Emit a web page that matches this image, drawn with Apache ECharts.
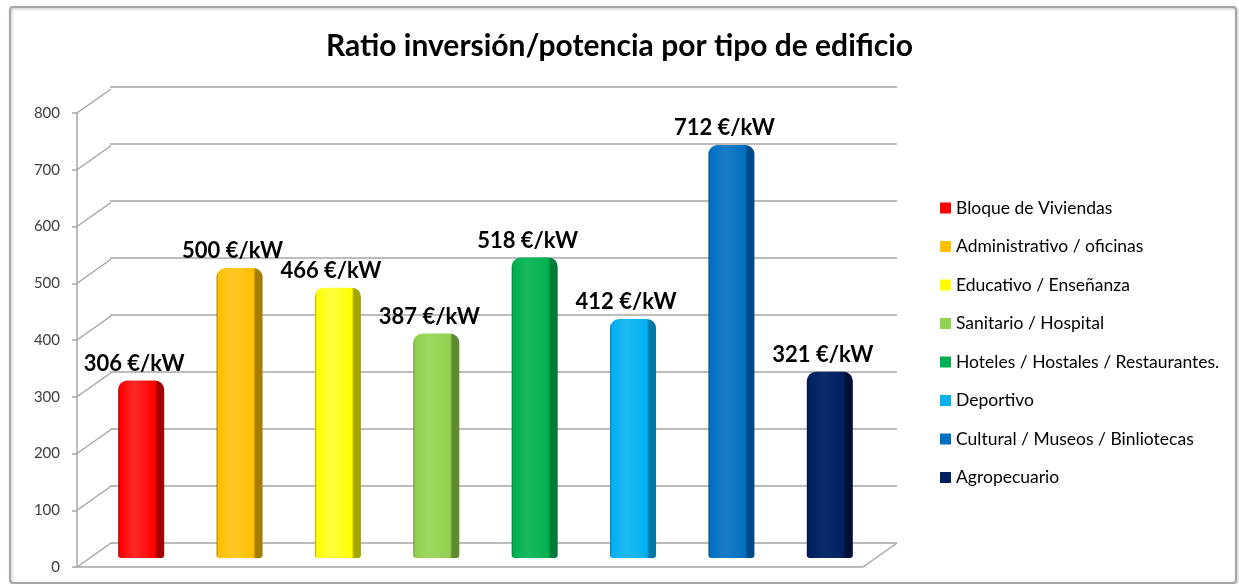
<!DOCTYPE html>
<html>
<head>
<meta charset="utf-8">
<script src="https://cdn.jsdelivr.net/npm/echarts@6/dist/echarts.min.js"></script>
<style>
html,body{margin:0;padding:0;background:#fff;}
#chart{width:1239px;height:584px;}
</style>
</head>
<body>
<div id="chart"></div>
<script>
// ---- data ----
const categories = [
  'Bloque de Viviendas',
  'Administrativo / oficinas',
  'Educativo / Enseñanza',
  'Sanitario / Hospital',
  'Hoteles / Hostales / Restaurantes.',
  'Deportivo',
  'Cultural / Museos / Binliotecas',
  'Agropecuario'
];
const values = [306, 500, 466, 387, 518, 412, 712, 321];
const yTicks = [0, 100, 200, 300, 400, 500, 600, 700, 800];
const unitLabel = '€/kW';
const titleText = 'Ratio inversión/potencia por tipo de edificio';

// ---- styles ----
const baseColors = ['#FF0000', '#FFC000', '#FFFF00', '#92D050', '#00B050', '#00B0F0', '#0070C0', '#002060'];
const sideColors = ['#A30000', '#A67C00', '#A6A600', '#5E8A30', '#007A38', '#0078A6', '#004A85', '#000F33'];
const lightColors = ['#FF2A2A', '#FFC828', '#FFFF40', '#9CD860', '#18B860', '#20BAF2', '#1A7CC8', '#0A2A6A'];
const FONT = 'Lato, "Noto Sans", sans-serif';
const DX = 34, DY = -24; // perspective depth offset

const chart = echarts.init(document.getElementById('chart'), null, {renderer: 'canvas'});

function grad(i) {
  return new echarts.graphic.LinearGradient(0, 0, 1, 0, [
    {offset: 0, color: sideColors[i]},
    {offset: 0.04, color: baseColors[i]},
    {offset: 0.35, color: lightColors[i]},
    {offset: 0.8, color: baseColors[i]},
    {offset: 0.85, color: sideColors[i]},
    {offset: 1, color: sideColors[i]}
  ]);
}

const barSeries = categories.map((name, i) => ({
  name: name,
  type: 'bar',
  stack: 'all',
  xAxisIndex: 2,
  yAxisIndex: 2,
  barWidth: 46,
  color: baseColors[i],
  data: values.map((v, j) => (j === i ? v : '-')),
  itemStyle: {color: grad(i), borderRadius: [9, 9, 3, 3]},
  label: {
    show: true,
    position: 'top',
    offset: [-7, -1],
    formatter: p => p.value + ' ' + unitLabel,
    fontFamily: FONT,
    fontWeight: 'bold',
    fontSize: 22,
    color: '#000'
  },
  z: 5
}));

const option = {
  animation: false,
  backgroundColor: '#fff',
  title: {
    text: titleText,
    left: 'center',
    top: 26,
    textStyle: {fontFamily: FONT, fontWeight: 'bold', fontSize: 30, color: '#000'}
  },
  legend: {
    orient: 'vertical',
    left: 935,
    top: 194,
    itemWidth: 11,
    itemHeight: 11,
    itemGap: 20.5,
    icon: 'rect',
    data: categories.map((c, i) => ({name: c, itemStyle: {color: baseColors[i]}})),
    textStyle: {fontFamily: FONT, fontSize: 17.5, color: '#000', lineHeight: 17}
  },
  grid: [
    {left: 110, right: 342, top: 87, bottom: 41},   // back wall
    {left: 77, right: 376, top: 113, bottom: 17},   // front axis
    {left: 92, right: 360, top: 94, bottom: 26}     // bars (mid depth)
  ],
  xAxis: [
    {gridIndex: 0, type: 'category', data: categories, show: false},
    {gridIndex: 1, type: 'category', data: categories, show: false},
    {gridIndex: 2, type: 'category', data: categories, show: false}
  ],
  yAxis: [
    {gridIndex: 0, type: 'value', min: 0, max: 800, interval: 100,
     axisLine: {show: false}, axisTick: {show: false}, axisLabel: {show: false},
     splitLine: {show: true, lineStyle: {color: '#A6A6A6', width: 1.5}}},
    {gridIndex: 1, type: 'value', min: 0, max: 800, interval: 100,
     axisLine: {show: true, lineStyle: {color: '#A6A6A6', width: 1.5}},
     axisTick: {show: true, length: 5, lineStyle: {color: '#A6A6A6', width: 1.5}},
     axisLabel: {show: true, margin: 17, fontFamily: FONT, fontSize: 15, color: '#404040'},
     splitLine: {show: false}},
    {gridIndex: 2, type: 'value', min: 0, max: 800, interval: 100, show: false, splitLine: {show: false}}
  ],
  series: [
    {
      type: 'custom',
      xAxisIndex: 1,
      yAxisIndex: 1,
      silent: true,
      z: 1,
      data: yTicks.map(v => [0, v]),
      renderItem: function (params, api) {
        const cs = params.coordSys;
        const y = api.coord([0, api.value(1)])[1];
        const ls = {stroke: '#A6A6A6', lineWidth: 1.5};
        const children = [{
          type: 'line',
          shape: {x1: cs.x, y1: y, x2: cs.x + DX, y2: y + DY},
          style: ls
        }];
        if (api.value(1) === yTicks[0]) {
          children.push({type: 'line', shape: {x1: cs.x, y1: y, x2: cs.x + cs.width, y2: y}, style: ls});
          children.push({type: 'line', shape: {x1: cs.x + cs.width, y1: y, x2: cs.x + cs.width + DX, y2: y + DY}, style: ls});
        }
        return {type: 'group', children: children};
      }
    }
  ].concat(barSeries),
  graphic: [
    {
      type: 'rect',
      shape: {x: 10, y: 7, width: 1226, height: 576, r: 3},
      style: {fill: 'none', stroke: '#A6A6A6', lineWidth: 2,
              shadowColor: 'rgba(0,0,0,0.25)', shadowBlur: 3, shadowOffsetX: 1, shadowOffsetY: 1},
      silent: true,
      z: 0
    }
  ]
};

chart.setOption(option);
</script>
</body>
</html>
